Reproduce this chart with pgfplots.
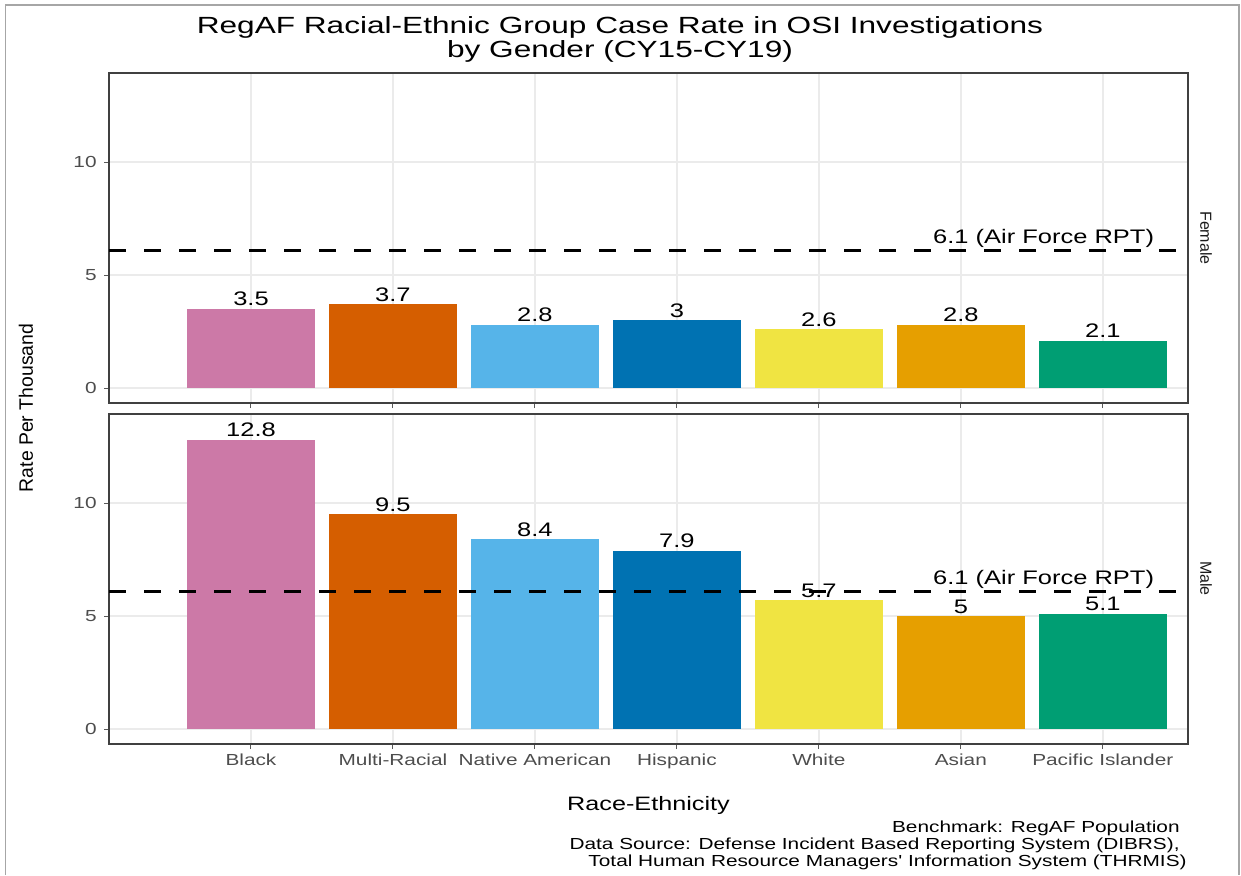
\documentclass[border=0pt]{standalone}
\usepackage{fontspec}
\setmainfont[FakeStretch=1.3]{Liberation Sans}
\newfontfamily\rotfont{Liberation Sans}
\newfontfamily\titlefont[FakeStretch=1.35]{Liberation Sans}
\usepackage{pgfplots}
\pgfplotsset{compat=1.18}
\definecolor{cBlack}{HTML}{CC79A7}
\definecolor{cMulti}{HTML}{D55E00}
\definecolor{cNative}{HTML}{56B4E9}
\definecolor{cHisp}{HTML}{0072B2}
\definecolor{cWhite}{HTML}{F0E442}
\definecolor{cAsian}{HTML}{E69F00}
\definecolor{cPac}{HTML}{009E73}
\definecolor{tickgray}{HTML}{4D4D4D}
\definecolor{gridgray}{HTML}{EBEBEB}
\definecolor{stripgray}{HTML}{1A1A1A}
\pgfplotsset{
  panel/.style={
    scale only axis, width=539.5pt, height=165pt,
    xmin=0, xmax=7.6, ymin=-0.66, ymax=13.94,
    xtick={1,2,3,4,5,6,7}, ytick={0,5,10},
    xtick pos=bottom, ytick pos=left,
    tick align=outside, major tick length=2.5pt,
    tick style={black!65, line width=0.5pt},
    grid=major, major grid style={gridgray, line width=0.7pt},
    axis line style={black!75, line width=0.7pt},
    /pgf/number format/assume math mode=true,
    yticklabel style={font=\fontsize{8}{9}\selectfont, text=tickgray, inner sep=0pt, anchor=east, xshift=-3.5pt},
    xticklabel style={font=\fontsize{8}{9}\selectfont, text=tickgray, inner sep=0pt, anchor=north, yshift=-2pt},
    clip=false,
  },
  bar/.style={ybar, bar width=0.9, bar shift=0pt, draw=none, fill=#1,
    nodes near coords,
    every node near coord/.append style={font=\fontsize{9.8}{11}\selectfont, text=black, inner sep=0pt, yshift=1.2pt}},
  rpt/.style={black, line width=1.5pt, dash pattern=on 8.5pt off 9pt, sharp plot, no markers},
}
\begin{document}
\begin{tikzpicture}
\path[use as bounding box] (0pt,0pt) rectangle (620.5pt,437.5pt);
\draw[gray!70, line width=0.75pt] (2.85pt,0pt) -- (2.85pt,435pt) -- (619.5pt,435pt) -- (619.5pt,0pt);
% Female panel
\begin{axis}[panel, at={(54.5pt,236pt)}, anchor=south west, xticklabels={}]
 \addplot[bar=cBlack] coordinates {(1,3.5)};
 \addplot[bar=cMulti] coordinates {(2,3.7)};
 \addplot[bar=cNative] coordinates {(3,2.8)};
 \addplot[bar=cHisp] coordinates {(4,3)};
 \addplot[bar=cWhite] coordinates {(5,2.6)};
 \addplot[bar=cAsian] coordinates {(6,2.8)};
 \addplot[bar=cPac] coordinates {(7,2.1)};
 \addplot[rpt] coordinates {(0,6.1) (7.6,6.1)};
 \node[anchor=base, font=\fontsize{9.8}{11}\selectfont, inner sep=0pt, yshift=3.3pt] at (axis cs:6.583,6.1) {6.1 (Air Force RPT)};
\end{axis}
% Male panel
\begin{axis}[panel, at={(54.5pt,65.5pt)}, anchor=south west,
  xticklabels={Black, Multi-Racial, Native American, Hispanic, White, Asian, Pacific Islander}]
 \addplot[bar=cBlack] coordinates {(1,12.8)};
 \addplot[bar=cMulti] coordinates {(2,9.5)};
 \addplot[bar=cNative] coordinates {(3,8.4)};
 \addplot[bar=cHisp] coordinates {(4,7.9)};
 \addplot[bar=cWhite] coordinates {(5,5.7)};
 \addplot[bar=cAsian] coordinates {(6,5)};
 \addplot[bar=cPac] coordinates {(7,5.1)};
 \addplot[rpt] coordinates {(0,6.1) (7.6,6.1)};
 \node[anchor=base, font=\fontsize{9.8}{11}\selectfont, inner sep=0pt, yshift=3.3pt] at (axis cs:6.583,6.1) {6.1 (Air Force RPT)};
\end{axis}
% titles and labels
\node[anchor=base, font=\titlefont\fontsize{11.7}{13}\selectfont] at (310pt,420.9pt) {RegAF Racial-Ethnic Group Case Rate in OSI Investigations};
\node[anchor=base, font=\titlefont\fontsize{11.7}{13}\selectfont] at (310pt,408.5pt) {by Gender (CY15-CY19)};
\node[anchor=base, font=\fontsize{9.7}{11}\selectfont, inner sep=0pt] at (324.25pt,32.5pt) {Race-Ethnicity};
\node[rotate=90, font=\rotfont\fontsize{9.7}{11}\selectfont, inner sep=0pt] at (13pt,233.5pt) {Rate Per Thousand};
\node[rotate=-90, font=\rotfont\fontsize{8}{9}\selectfont, text=stripgray, inner sep=0pt] at (603pt,318.5pt) {Female};
\node[rotate=-90, font=\rotfont\fontsize{8}{9}\selectfont, text=stripgray, inner sep=0pt] at (603pt,148.25pt) {Male};
\node[anchor=base east, font=\fontsize{8}{9}\selectfont, inner sep=0pt] at (590pt,21.5pt) {Benchmark: RegAF Population};
\node[anchor=base east, font=\fontsize{8}{9}\selectfont, inner sep=0pt] at (590pt,13pt) {Data Source: Defense Incident Based Reporting System (DIBRS),};
\node[anchor=base east, font=\fontsize{8}{9}\selectfont, inner sep=0pt] at (593.5pt,4.5pt) {Total Human Resource Managers{\addfontfeature{Ligatures=TeXOff}'} Information System (THRMIS)};
\end{tikzpicture}
\end{document}
